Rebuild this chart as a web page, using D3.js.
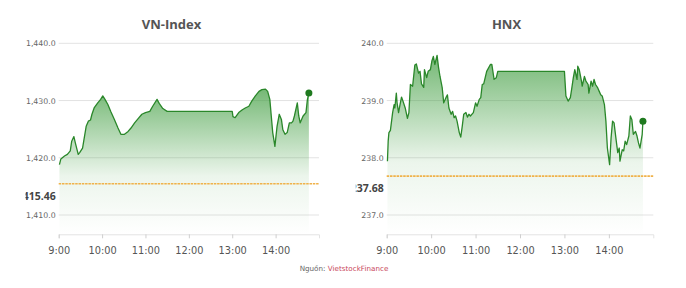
<!DOCTYPE html>
<html>
<head>
<meta charset="utf-8">
<script src="https://cdn.jsdelivr.net/npm/d3@7"></script>
<style>
  html, body { margin: 0; padding: 0; background: #fff; }
  svg { display: block; }
</style>
</head>
<body>
<svg id="chart" width="686" height="288"></svg>
<script>
// ---------------- DATA ----------------
const hourTicks = ["9:00", "10:00", "11:00", "12:00", "13:00", "14:00"];

const vnTitle = "VN-Index";
const vnRef = 1415.46;
const vnRefLabel = "1415.46";
const vnYTicks = [1410, 1420, 1430, 1440];
const vnTimes = ["9:01","9:03","9:08","9:12","9:16","9:18","9:21","9:23","9:27","9:29","9:33","9:35","9:38","9:41","9:44","9:46","9:49","9:54","9:58",
  "10:01","10:04","10:08","10:12","10:17","10:22","10:26","10:31","10:36","10:40","10:45","10:49","10:55",
  "11:00","11:06","11:10","11:16","11:19","11:24","11:30","13:00",
  "13:01","13:04","13:09","13:14","13:18","13:23","13:27","13:32","13:37","13:41","13:46","13:49","13:52","13:54","13:56","13:59",
  "14:02","14:05","14:08","14:10","14:13","14:16","14:19","14:22","14:24","14:26","14:30","14:32","14:34","14:38","14:42","14:44","14:46"];
const vnValues = [1418.8,1419.8,1420.3,1420.6,1421.2,1422.9,1423.7,1422.6,1420.6,1420.9,1421.7,1423.2,1425.5,1426.4,1426.6,1427.6,1428.7,1429.6,1430.2,
  1430.8,1430.2,1429.3,1428.1,1426.7,1425.2,1424.1,1424.1,1424.6,1425.2,1426.1,1426.7,1427.6,
  1427.9,1428.1,1429.0,1430.2,1429.5,1428.6,1428.1,1428.1,
  1427.2,1427.0,1427.9,1428.4,1428.7,1429.0,1429.9,1430.8,1431.6,1431.9,1432.0,1431.6,1430.2,1427.3,1424.4,1422.0,
  1425.5,1427.6,1426.7,1424.9,1424.1,1424.4,1426.1,1426.1,1426.4,1427.3,1429.6,1427.3,1426.1,1427.3,1427.9,1430.2,1431.3];

const hnxTitle = "HNX";
const hnxRef = 237.68;
const hnxRefLabel = "237.68";
const hnxYTicks = [237, 238, 239, 240];
const hnxTimes = ["9:01","9:02","9:03","9:05","9:08","9:10","9:11","9:13","9:14","9:16","9:18","9:20","9:22","9:25","9:28","9:30","9:32","9:35","9:38","9:40","9:43","9:45","9:47","9:50","9:51","9:54","9:56","9:59",
  "10:01","10:03","10:05","10:08","10:10","10:12","10:15","10:17","10:20","10:22","10:24","10:27","10:29","10:31","10:33","10:35","10:38","10:40","10:42","10:44","10:47","10:49","10:51","10:53","10:57",
  "11:00","11:02","11:05","11:07","11:09","11:11","11:15","11:20","11:22","11:25","11:28","11:30","13:00",
  "13:02","13:05","13:08","13:10","13:12","13:14","13:17","13:18","13:20","13:23","13:24","13:27","13:29","13:32","13:33","13:36","13:38","13:40","13:42","13:45","13:47","13:49","13:51","13:54","13:56","13:58",
  "14:01","14:03","14:05","14:07","14:10","14:12","14:14","14:15","14:18","14:20","14:22","14:24","14:27","14:29","14:31","14:33","14:36","14:38","14:40","14:42","14:45","14:46"];
const hnxValues = [237.94,238.29,238.44,238.48,238.79,238.93,238.87,239.13,238.96,238.79,238.93,239.06,238.99,238.87,238.69,238.79,239.28,239.25,239.62,239.64,239.48,239.51,239.29,239.23,239.54,239.40,239.51,239.54,
  239.69,239.77,239.63,239.79,239.58,239.42,239.22,238.96,239.05,239.10,238.87,238.76,238.81,238.70,238.73,238.64,238.44,238.36,238.55,238.76,238.79,238.71,238.76,238.73,238.79,
  238.96,238.90,239.02,239.05,239.28,239.29,239.51,239.63,239.63,239.37,239.40,239.51,239.51,
  239.08,238.99,239.05,239.22,239.40,239.54,239.37,239.60,239.54,239.34,239.25,239.42,239.34,239.28,239.13,239.34,239.25,239.37,239.28,239.22,239.16,239.10,239.08,238.93,238.64,238.17,
  237.88,238.35,238.64,238.61,238.29,238.09,238.17,237.94,238.14,238.12,238.29,238.23,238.38,238.73,238.67,238.41,238.46,238.38,238.26,238.17,238.41,238.64];

const sourceLabel = "Nguồn: ";
const sourceName = "VietstockFinance";

// ---------------- DRAW ----------------
const svg = d3.select("#chart");
const parseT = d3.timeParse("%H:%M");
const fmtT = d3.timeFormat("%-H:%M");

const defs = svg.append("defs");
const grad = defs.append("linearGradient")
  .attr("id", "fillGrad").attr("x1", 0).attr("y1", 0).attr("x2", 0).attr("y2", 1);
grad.append("stop").attr("offset", "0%").attr("stop-color", "#3f9d3f").attr("stop-opacity", 0.72);
grad.append("stop").attr("offset", "60%").attr("stop-color", "#3f9d3f").attr("stop-opacity", 0.1);
grad.append("stop").attr("offset", "100%").attr("stop-color", "#3f9d3f").attr("stop-opacity", 0.0);

function drawPanel(cfg) {
  const id = cfg.id;
  defs.append("clipPath").attr("id", "clip-" + id)
    .append("rect").attr("x", cfg.clipX).attr("y", 0).attr("width", cfg.x1 - cfg.clipX + 10).attr("height", 288);

  const g = svg.append("g").attr("clip-path", `url(#clip-${id})`);

  const x = d3.scaleTime().domain([parseT("9:00"), parseT("15:00")]).range([cfg.x0, cfg.x1]);
  const y = d3.scaleLinear().domain([cfg.yTicks[0], cfg.yTicks[cfg.yTicks.length - 1]]).range([215, 43.3]);
  const axisY = 234.3;

  // title
  g.append("text").attr("x", cfg.titleX).attr("y", 29)
    .attr("text-anchor", "middle")
    .attr("font-family", "Open Sans, sans-serif").attr("font-weight", "bold")
    .attr("font-size", 13).attr("fill", "#555")
    .text(cfg.title);

  // gridlines
  g.append("g").selectAll("line").data(cfg.yTicks).join("line")
    .attr("x1", cfg.x0).attr("x2", cfg.x1)
    .attr("y1", d => y(d)).attr("y2", d => y(d))
    .attr("stroke", "#e3e3e3").attr("stroke-width", 1);

  // y labels
  g.append("g").selectAll("text").data(cfg.yTicks).join("text")
    .attr("x", cfg.x0 - 3).attr("y", d => y(d) + 3)
    .attr("text-anchor", "end")
    .attr("font-family", "DejaVu Sans, sans-serif").attr("font-size", 7.8)
    .attr("fill", "#666")
    .text(d => d3.format(",.1f")(d));

  // x axis
  const xAxis = d3.axisBottom(x)
    .tickValues(hourTicks.map(parseT))
    .tickSize(4)
    .tickFormat(fmtT);
  const ax = g.append("g").attr("transform", `translate(0,${axisY})`).call(xAxis);
  ax.select(".domain").attr("stroke", "#e3e3e3");
  ax.selectAll(".tick line").attr("stroke", "#cfcfcf");
  ax.selectAll(".tick text")
    .attr("y", 19.5).attr("dy", 0)
    .attr("font-family", "DejaVu Sans, sans-serif").attr("font-size", 9.8)
    .attr("fill", "#555");

  const data = cfg.times.map((t, i) => ({ t: parseT(t), v: cfg.values[i] }));

  // area
  const area = d3.area().x(d => x(d.t)).y0(axisY).y1(d => y(d.v));
  g.append("path").datum(data).attr("d", area).attr("fill", "url(#fillGrad)");

  // reference line
  g.append("line")
    .attr("x1", cfg.x0).attr("x2", cfg.x1)
    .attr("y1", y(cfg.ref)).attr("y2", y(cfg.ref))
    .attr("stroke", "#f0b24a").attr("stroke-width", 1.6)
    .attr("stroke-dasharray", "2.5,0.8");

  g.append("text").attr("x", cfg.x0 - 3).attr("y", y(cfg.ref) + 16)
    .attr("text-anchor", "end")
    .attr("font-family", "Open Sans, sans-serif").attr("font-weight", "bold")
    .attr("font-size", 10.5).attr("fill", "#444")
    .text(cfg.refLabel);

  // line
  const line = d3.line().x(d => x(d.t)).y(d => y(d.v));
  g.append("path").datum(data).attr("d", line)
    .attr("fill", "none").attr("stroke", "#2a872a").attr("stroke-width", 1.3)
    .attr("stroke-linejoin", "round");

  const last = data[data.length - 1];
  g.append("circle").attr("cx", x(last.t)).attr("cy", y(last.v)).attr("r", 3.5)
    .attr("fill", "#1f7a1f");
}

drawPanel({ id: "vn", title: vnTitle, titleX: 171.5, x0: 58.7, x1: 319, clipX: 25.5,
  yTicks: vnYTicks, ref: vnRef, refLabel: vnRefLabel, times: vnTimes, values: vnValues });
drawPanel({ id: "hnx", title: hnxTitle, titleX: 506.5, x0: 386.7, x1: 653.3, clipX: 355.8,
  yTicks: hnxYTicks, ref: hnxRef, refLabel: hnxRefLabel, times: hnxTimes, values: hnxValues });

// source
const src = svg.append("text").attr("x", 344).attr("y", 270.5)
  .attr("text-anchor", "middle")
  .attr("font-family", "DejaVu Sans, sans-serif").attr("font-size", 7.2);
src.append("tspan").attr("fill", "#666").text(sourceLabel);
src.append("tspan").attr("fill", "#c9485b").text(sourceName);
</script>
</body>
</html>
